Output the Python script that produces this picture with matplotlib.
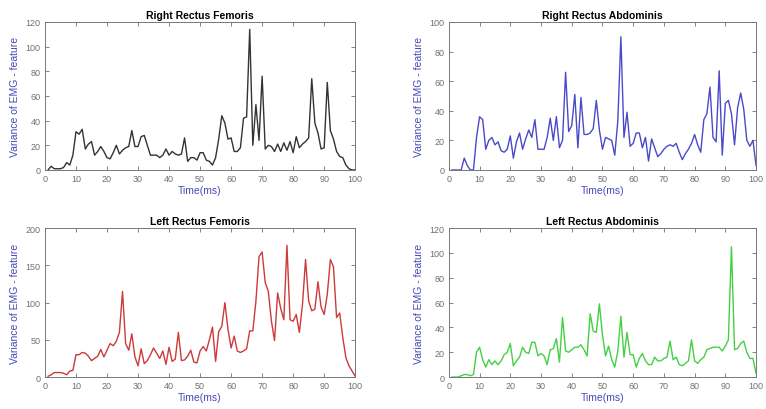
import matplotlib
matplotlib.use('Agg')
import matplotlib.pyplot as plt
import numpy as np

plt.rcParams['font.family'] = ['Liberation Sans', 'DejaVu Sans']

time_ms = np.arange(1, 101)

right_femoris = [0, 3, 1, 1, 1, 2, 6, 4, 12, 31, 29, 33, 17, 21, 23, 12, 15, 19, 15, 10,
                 9, 14, 20, 13, 16, 18, 19, 32, 19, 19, 27, 28, 20, 12, 12, 12, 10, 12, 17, 12,
                 15, 13, 12, 13, 26, 7, 10, 10, 8, 14, 14, 8, 7, 4, 10, 25, 44, 38, 25, 26,
                 15, 15, 18, 42, 43, 114, 20, 53, 24, 76, 17, 20, 19, 15, 21, 15, 22, 16, 23, 14,
                 27, 18, 21, 23, 26, 74, 38, 30, 17, 18, 71, 32, 25, 15, 11, 10, 4, 1, 0, 0]

right_abdominis = [0, 0, 0, 0, 8, 3, 0, 0, 22, 36, 34, 14, 20, 22, 17, 19, 13, 12, 14, 23,
                   8, 19, 25, 14, 21, 27, 22, 34, 14, 14, 14, 22, 35, 20, 36, 15, 20, 66, 26, 30,
                   51, 15, 49, 24, 24, 25, 28, 47, 27, 14, 22, 21, 20, 10, 33, 90, 22, 39, 16, 18,
                   25, 25, 15, 22, 6, 21, 15, 9, 11, 14, 16, 17, 16, 18, 12, 7, 11, 14, 18, 24,
                   17, 12, 34, 38, 56, 22, 19, 67, 10, 45, 47, 38, 17, 42, 52, 41, 20, 16, 20, 3]

left_femoris = [1, 3, 6, 6, 6, 5, 3, 8, 9, 30, 30, 33, 32, 28, 22, 25, 28, 37, 27, 36,
                45, 42, 48, 60, 115, 45, 36, 58, 27, 15, 38, 18, 22, 30, 39, 32, 25, 35, 17, 40,
                21, 24, 60, 22, 23, 28, 36, 20, 19, 35, 41, 35, 50, 67, 21, 61, 68, 100, 64, 39,
                55, 35, 33, 35, 38, 62, 62, 102, 162, 168, 127, 115, 75, 49, 113, 92, 77, 177, 77, 75,
                84, 60, 97, 158, 102, 89, 91, 128, 94, 84, 111, 158, 148, 80, 86, 53, 26, 15, 8, 1]

left_abdominis = [0, 0, 0, 1, 2, 2, 1, 2, 20, 24, 14, 8, 14, 10, 13, 10, 13, 18, 20, 27,
                  9, 13, 16, 24, 20, 19, 28, 28, 17, 19, 17, 10, 22, 23, 31, 12, 48, 21, 20, 22,
                  24, 24, 26, 22, 17, 51, 37, 36, 59, 34, 17, 25, 14, 8, 21, 49, 16, 36, 18, 18,
                  8, 15, 19, 13, 10, 10, 16, 13, 13, 15, 16, 29, 14, 16, 10, 9, 11, 13, 30, 13,
                  11, 14, 16, 22, 23, 24, 24, 24, 21, 25, 30, 105, 22, 23, 27, 29, 20, 15, 15, 3]

titles = ['Right Rectus Femoris', 'Right Rectus Abdominis',
          'Left Rectus Femoris', 'Left Rectus Abdominis']
series = [right_femoris, right_abdominis, left_femoris, left_abdominis]
colours = ['#333333', '#4a4ac8', '#cc3a3a', '#44d044']
ylims = [120, 100, 200, 120]
ysteps = [20, 20, 50, 20]

label_col = '#4848b8'
tick_col = '#707070'

fig = plt.figure(figsize=(7.66, 4.10), dpi=100)
# [left, bottom, width, height]
boxes = [[0.0587, 0.583, 0.405, 0.361],
         [0.586, 0.583, 0.401, 0.361],
         [0.0587, 0.078, 0.405, 0.363],
         [0.586, 0.078, 0.401, 0.363]]

for i in range(4):
    ax = fig.add_axes(boxes[i])
    ax.plot(time_ms, series[i], color=colours[i], lw=1.0)
    ax.set_xlim(0, 100)
    ax.set_ylim(0, ylims[i])
    ax.set_xticks(np.arange(0, 101, 10))
    ax.set_yticks(np.arange(0, ylims[i] + 1, ysteps[i]))
    ax.tick_params(direction='in', top=True, right=True, length=3, width=0.6,
                   labelsize=6.5, colors=tick_col, pad=3)
    for sp in ax.spines.values():
        sp.set_color('#777777')
        sp.set_linewidth(0.7)
    ax.set_title(titles[i], fontsize=7.5, fontweight='bold', pad=3)
    ax.set_xlabel('Time(ms)', fontsize=7.5, color=label_col, labelpad=1)
    ax.set_ylabel('Variance of EMG - feature', fontsize=7.5, color=label_col, labelpad=4)

fig.savefig('out.png', dpi=100)
